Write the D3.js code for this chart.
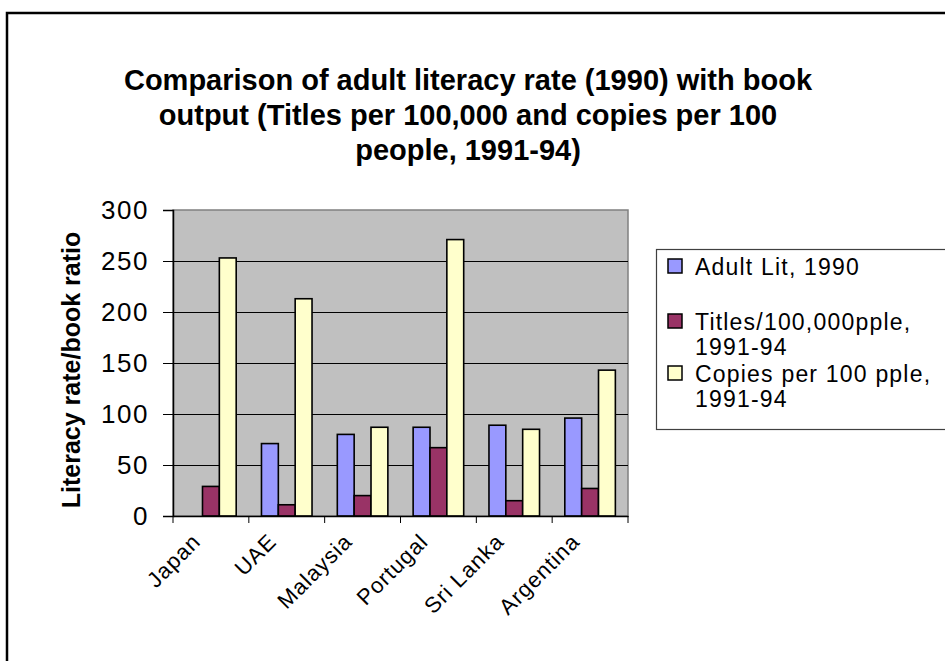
<!DOCTYPE html>
<html>
<head>
  <meta charset="utf-8">
  <script src="https://cdn.jsdelivr.net/npm/d3@7/dist/d3.min.js"></script>
  <style>
    body {margin: 0; background: #fff;}
    text {font-family: "Liberation Sans", Arial, sans-serif; fill: #000;}
  </style>
</head>
<body>
  <script>
    // chart values
    var categories = ["Japan", "UAE", "Malaysia", "Portugal", "Sri Lanka", "Argentina"];
    var seriesNames = ["Adult Lit, 1990", "Titles/100,000pple, 1991-94", "Copies per 100 pple, 1991-94"];
    var adultLit = [null, 71, 80, 87, 89, 96];
    var titles = [29, 11, 20, 67, 15, 27];
    var copies = [253, 213, 87, 271, 85, 143];
    var yTicks = [0, 50, 100, 150, 200, 250, 300];
    var titleLines = ["Comparison of adult literacy rate (1990) with book",
                      "output (Titles per 100,000 and copies per 100",
                      "people, 1991-94)"];
    var legendLines = [["Adult Lit, 1990"], ["Titles/100,000pple,", "1991-94"], ["Copies per 100 pple,", "1991-94"]];

    var colors = ["#9999ff", "#993366", "#ffffcc"];
    var values = [adultLit, titles, copies];

    var width = 945, height = 661;
    var plot = {left: 173, right: 628, top: 210, bottom: 516};

    var svg = d3.select("body").append("svg")
        .attr("width", width)
        .attr("height", height);

    // outer frame of the chart area
    svg.append("rect")
        .attr("x", 7).attr("y", 13)
        .attr("width", 960).attr("height", 680)
        .attr("fill", "#fff")
        .attr("stroke", "#000")
        .attr("stroke-width", 2.5);

    // scales
    var x = d3.scaleBand().domain(categories).range([plot.left, plot.right]);
    var xs = d3.scaleBand().domain(d3.range(3)).range([0, x.bandwidth()]).paddingOuter(0.75);
    var y = d3.scaleLinear().domain([0, 300]).range([plot.bottom, plot.top]);

    // plot background
    svg.append("rect")
        .attr("x", plot.left).attr("y", plot.top)
        .attr("width", plot.right - plot.left)
        .attr("height", plot.bottom - plot.top)
        .attr("fill", "#c0c0c0")
        .attr("stroke", "#808080")
        .attr("stroke-width", 1.5);

    // gridlines
    svg.append("g").selectAll("line")
        .data(yTicks.filter(d => d > 0 && d < 300))
        .enter().append("line")
        .attr("x1", plot.left).attr("x2", plot.right)
        .attr("y1", d => y(d) + 0.5).attr("y2", d => y(d) + 0.5)
        .attr("stroke", "#000").attr("stroke-width", 1);

    // bars
    var bars = [];
    values.forEach(function (arr, s) {
      arr.forEach(function (v, i) {
        if (v != null) bars.push({cat: categories[i], s: s, v: v});
      });
    });
    svg.append("g").selectAll("rect")
        .data(bars)
        .enter().append("rect")
        .attr("x", d => x(d.cat) + xs(d.s))
        .attr("y", d => y(d.v))
        .attr("width", xs.bandwidth())
        .attr("height", d => y(0) - y(d.v))
        .attr("fill", d => colors[d.s])
        .attr("stroke", "#000")
        .attr("stroke-width", 1.6);

    // Y axis
    var yAxis = d3.axisLeft(y).tickValues(yTicks).tickSize(10).tickPadding(14);
    var gy = svg.append("g")
        .attr("transform", "translate(" + plot.left + ",0)")
        .call(yAxis);
    gy.select(".domain").attr("stroke", "#000").attr("stroke-width", 1.5);
    gy.selectAll(".tick line").attr("stroke", "#000");
    gy.selectAll(".tick text")
        .attr("font-size", 26)
        .style("letter-spacing", "1.5px")
        .attr("font-family", "Liberation Sans, Arial, sans-serif");

    // X axis
    var xAxis = d3.axisBottom(x).tickSize(0).tickFormat("");
    var gx = svg.append("g")
        .attr("transform", "translate(0," + plot.bottom + ")")
        .call(xAxis);
    gx.select(".domain").attr("stroke", "#000").attr("stroke-width", 1.5);
    // tick marks between categories
    gx.selectAll(".sep")
        .data(d3.range(categories.length + 1))
        .enter().append("line")
        .attr("x1", d => plot.left + d * x.step())
        .attr("x2", d => plot.left + d * x.step())
        .attr("y1", 0).attr("y2", 7)
        .attr("stroke", "#000").attr("stroke-width", 1);
    // rotated category labels
    svg.append("g").selectAll("text")
        .data(categories)
        .enter().append("text")
        .attr("transform", d => "translate(" + (x(d) + x.bandwidth() / 2 - 9) + "," + (plot.bottom + 27) + ") rotate(-45)")
        .attr("text-anchor", "end")
        .attr("font-size", 22)
        .style("letter-spacing", "1px")
        .text(d => d);

    // Y axis label
    svg.append("text")
        .attr("transform", "translate(80,370) rotate(-90)")
        .attr("text-anchor", "middle")
        .attr("font-size", 25)
        .attr("font-weight", "bold")
        .text("Literacy rate/book ratio");

    // title
    svg.append("g").selectAll("text")
        .data(titleLines)
        .enter().append("text")
        .attr("x", 468)
        .attr("y", (d, i) => 90 + i * 35)
        .attr("text-anchor", "middle")
        .attr("font-size", 29)
        .attr("font-weight", "bold")
        .text(d => d);

    // legend
    var legend = svg.append("g");
    legend.append("rect")
        .attr("x", 656.5).attr("y", 249.5)
        .attr("width", 320).attr("height", 180)
        .attr("fill", "#fff")
        .attr("stroke", "#404040")
        .attr("stroke-width", 1.2);
    var legendBase = [275, 330, 382];
    legendLines.forEach(function (lines, i) {
      legend.append("rect")
          .attr("x", 668).attr("y", legendBase[i] - 16)
          .attr("width", 14).attr("height", 14)
          .attr("fill", colors[i])
          .attr("stroke", "#000")
          .attr("stroke-width", 1.5);
      lines.forEach(function (t, j) {
        legend.append("text")
            .attr("x", 695)
            .attr("y", legendBase[i] + j * 25)
            .attr("font-size", 23)
            .style("letter-spacing", "1.2px")
            .text(t);
      });
    });
  </script>
</body>
</html>
